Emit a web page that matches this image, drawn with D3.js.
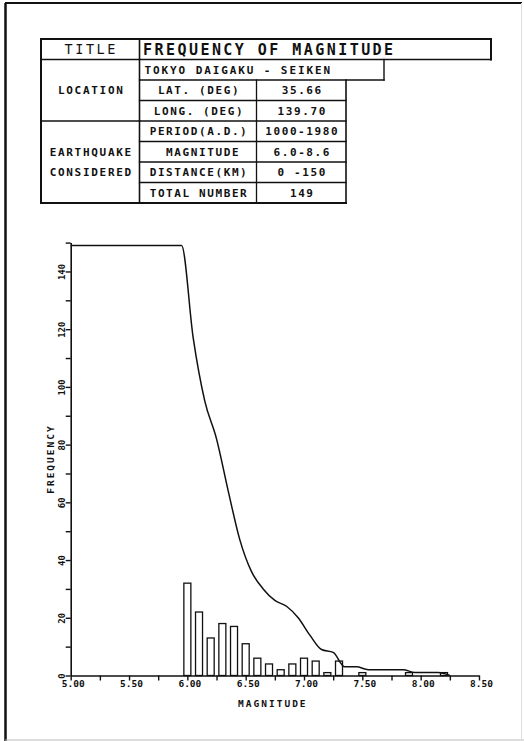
<!DOCTYPE html>
<html>
<head>
<meta charset="utf-8">
<script src="https://cdn.jsdelivr.net/npm/d3@7"></script>
<style>
  html, body { margin: 0; padding: 0; background: #fff; }
  svg { display: block; }
  text { font-family: "DejaVu Sans Mono", monospace; fill: #111; white-space: pre; }
</style>
</head>
<body>
<svg id="chart" width="524" height="741"></svg>
<script>
// ---- header table ----
const tableTitle = "FREQUENCY OF MAGNITUDE";
const stationName = "TOKYO DAIGAKU - SEIKEN";
const locationRows = [["LAT. (DEG)", "35.66"], ["LONG. (DEG)", "139.70"]];
const quakeRows = [
  ["PERIOD(A.D.)", "1000-1980"],
  [" MAGNITUDE", "6.0-8.6"],
  ["DISTANCE(KM)", "0 -150"],
  ["TOTAL NUMBER", "149"]
];

// ---- histogram: events per 0.1 magnitude bin ----
const magnitudes  = [6.0, 6.1, 6.2, 6.3, 6.4, 6.5, 6.6, 6.7, 6.8, 6.9, 7.0, 7.1, 7.2, 7.3, 7.4, 7.5, 7.6, 7.7, 7.8, 7.9, 8.0, 8.1, 8.2];
const frequencies = [32,  22,  13,  18,  17,  11,  6,   4,   2,   4,   6,   5,   1,   5,   0,   1,   0,   0,   0,   1,   0,   0,   1];

// ---- cumulative curve: number of events at or above each bin edge ----
const edgeMagnitudes   = [5.00, 5.95, 6.05, 6.15, 6.25, 6.35, 6.45, 6.55, 6.65, 6.75, 6.85, 6.95, 7.05, 7.15, 7.25, 7.35, 7.45, 7.55, 7.65, 7.75, 7.85, 7.95, 8.05, 8.15, 8.25];
const cumulativeCounts = [149,  149,  117,  95,   82,   64,   47,   36,   30,   26,   24,   20,   14,   9,    8,    3,    3,    2,    2,    2,    2,    1,    1,    1,    0];

// ---- axes ----
const xTicks = [5.00, 5.25, 5.50, 5.75, 6.00, 6.25, 6.50, 6.75, 7.00, 7.25, 7.50, 7.75, 8.00, 8.25, 8.50];
const xTickLabels = ["5.00", "5.50", "6.00", "6.50", "7.00", "7.50", "8.00", "8.50"];
const yTicks = [0, 10, 20, 30, 40, 50, 60, 70, 80, 90, 100, 110, 120, 130, 140, 150];
const yTickLabels = ["0", "20", "40", "60", "80", "100", "120", "140"];
const xTitle = "MAGNITUDE";
const yTitle = "FREQUENCY";

const svg = d3.select("#chart");

// page frame
svg.append("line").attr("x1", 5).attr("y1", 3).attr("x2", 522).attr("y2", 3)
  .attr("stroke", "#111").attr("stroke-width", 2);
svg.append("line").attr("x1", 5.5).attr("y1", 3).attr("x2", 5.5).attr("y2", 741)
  .attr("stroke", "#111").attr("stroke-width", 2.5);
svg.append("line").attr("x1", 5).attr("y1", 740).attr("x2", 524).attr("y2", 740)
  .attr("stroke", "#bbb").attr("stroke-width", 1);
svg.append("line").attr("x1", 521.5).attr("y1", 3).attr("x2", 521.5).attr("y2", 740)
  .attr("stroke", "#ddd").attr("stroke-width", 1);

// ---- table ----
const tbl = svg.append("g");
const tL = 41, c1 = 139.5, c2 = 256.5, c3 = 346, tR = 491, stationR = 384;
const rowH = 20.5, tTop = 39;
const rowY = i => tTop + i * rowH;
const nRows = 8;
const line = (x1, y1, x2, y2, w) => tbl.append("line")
  .attr("x1", x1).attr("y1", y1).attr("x2", x2).attr("y2", y2)
  .attr("stroke", "#111").attr("stroke-width", w).attr("stroke-linecap", "square");

// outer frame pieces
line(tL, rowY(0), tR, rowY(0), 2);
line(tR, rowY(0), tR, rowY(1), 2);
line(tL, rowY(0), tL, rowY(nRows), 2);
line(tL, rowY(nRows), c3, rowY(nRows), 2);
line(tL, rowY(1), tR, rowY(1), 1.6);
line(c1, rowY(0), c1, rowY(nRows), 1.6);
// station row
line(c1, rowY(2), stationR, rowY(2), 1.4);
line(stationR, rowY(1), stationR, rowY(2), 1.4);
// value rows
for (let i = 3; i < nRows; i++) line(c1, rowY(i), c3, rowY(i), 1.3);
line(tL, rowY(4), c1, rowY(4), 1.6);
line(c2, rowY(2), c2, rowY(nRows), 1.3);
line(c3, rowY(2), c3, rowY(nRows), 1.6);

const txt = (s, x, y, size, ls, anchor, weight) => tbl.append("text")
  .attr("x", x).attr("y", y).attr("font-size", size)
  .attr("letter-spacing", ls).attr("text-anchor", anchor)
  .attr("font-weight", weight).text(s);

const mid = i => rowY(i) + rowH / 2;
txt("TITLE", (tL + c1) / 2 + 1, mid(0) + 5, 13.5, 2.6, "middle", "normal");
txt(tableTitle, c1 + 3.5, mid(0) + 5.5, 15, 2.45, "start", "bold");
txt(stationName, c1 + 5, mid(1) + 4, 11, 1.9, "start", "bold");
txt("LOCATION", (tL + c1) / 2 + 1, mid(2) + 4, 11, 1.7, "middle", "bold");
txt("EARTHQUAKE", (tL + c1) / 2 + 1, mid(5) + 4, 11, 1.7, "middle", "bold");
txt("CONSIDERED", (tL + c1) / 2 + 1, mid(6) + 4, 11, 1.7, "middle", "bold");
locationRows.concat(quakeRows).forEach((r, k) => {
  const i = k + 2;
  txt(r[0], (c1 + c2) / 2 + 1, mid(i) + 4, 11, 1.6, "middle", "bold");
  txt(r[1], (c2 + c3) / 2 + 1, mid(i) + 4, 11, 1.6, "middle", "bold");
});

// ---- chart ----
const x = d3.scaleLinear().domain([5, 8.5]).range([70.7, 479]);
const y = d3.scaleLinear().domain([0, 150]).range([675.5, 242.6]);
const barHalf = 0.03;

const plot = svg.append("g");

// bars
plot.selectAll("rect.bar")
  .data(magnitudes.map((m, i) => ({ m, f: frequencies[i] })).filter(d => d.f > 0))
  .join("rect")
  .attr("class", "bar")
  .attr("x", d => x(d.m - barHalf))
  .attr("width", d => x(d.m + barHalf) - x(d.m - barHalf))
  .attr("y", d => y(d.f))
  .attr("height", d => y(0) - y(d.f))
  .attr("fill", "#fff").attr("stroke", "#111").attr("stroke-width", 1.3);

// cumulative curve
const curvePts = edgeMagnitudes.map((m, i) => [m, cumulativeCounts[i]]);
plot.append("path")
  .datum(curvePts)
  .attr("d", d3.line().x(d => x(d[0])).y(d => y(d[1])).curve(d3.curveMonotoneX))
  .attr("fill", "none").attr("stroke", "#111").attr("stroke-width", 1.5);

// x axis
const xAxis = d3.axisBottom(x).tickValues(xTicks).tickSize(5).tickSizeOuter(0)
  .tickFormat(v => { const s = v.toFixed(2); return xTickLabels.includes(s) ? s : ""; });
const gx = svg.append("g").attr("transform", `translate(0,${y(0)})`).call(xAxis);
gx.select(".domain").attr("stroke", "#111").attr("stroke-width", 1.6);
gx.selectAll(".tick line").attr("stroke", "#111").attr("stroke-width", 1.4);
gx.selectAll(".tick text").attr("font-family", "DejaVu Sans Mono")
  .attr("font-size", 9.5).attr("font-weight", "bold").attr("fill", "#111")
  .attr("dy", "0.4em").attr("dx", 2);

// y axis
const yAxis = d3.axisLeft(y).tickValues(yTicks).tickSize(5).tickSizeOuter(0)
  .tickFormat(v => yTickLabels.includes(String(v)) ? String(v) : "");
const gy = svg.append("g").attr("transform", `translate(${x(5)},0)`).call(yAxis);
gy.select(".domain").attr("stroke", "#111").attr("stroke-width", 1.6);
gy.selectAll(".tick line").attr("stroke", "#111").attr("stroke-width", 1.4);
gy.selectAll(".tick text")
  .attr("font-family", "DejaVu Sans Mono").attr("font-size", 9).attr("font-weight", "bold")
  .attr("fill", "#111").attr("text-anchor", "middle")
  .attr("x", null).attr("dy", null)
  .attr("transform", "translate(-6,0) rotate(-90)")
  .attr("y", 0);

// axis titles
svg.append("text").attr("x", (x(5) + x(8.5)) / 2 - 2).attr("y", 707)
  .attr("text-anchor", "middle").attr("font-size", 9.5).attr("font-weight", "bold")
  .attr("letter-spacing", 2).text(xTitle);
svg.append("text")
  .attr("transform", `translate(54,${(y(0) + y(150)) / 2}) rotate(-90)`)
  .attr("text-anchor", "middle").attr("font-size", 9.5).attr("font-weight", "bold")
  .attr("letter-spacing", 2).text(yTitle);
</script>
</body>
</html>
